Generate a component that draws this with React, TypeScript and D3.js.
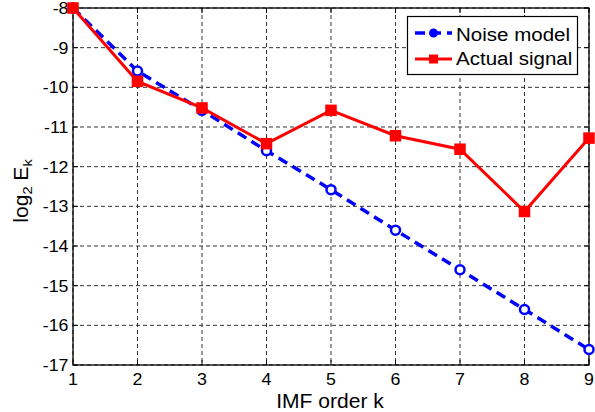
import React from "react";
import * as d3 from "d3";

const imfOrder = [1, 2, 3, 4, 5, 6, 7, 8, 9];
const noiseModel = [-8, -9.59, -10.58, -11.6, -12.58, -13.6, -14.6, -15.6, -16.61];
const actualSignal = [-8, -9.85, -10.52, -11.42, -10.58, -11.22, -11.56, -13.13, -11.28];
const xTicks = [1, 2, 3, 4, 5, 6, 7, 8, 9];
const yTicks = [-8, -9, -10, -11, -12, -13, -14, -15, -16, -17];

const W = 595;
const H = 412;
const left = 73;
const right = 589;
const top = 8;
const bottom = 365;
const FONT = "'Liberation Sans', Arial, Helvetica, sans-serif";
const SX = 1.08;

function T(props: {
  x: number;
  y: number;
  size: number;
  anchor?: string;
  rotate?: number;
  dy?: string;
  children: React.ReactNode;
}) {
  const { x, y, size, anchor, rotate, dy, children } = props;
  const tr = `translate(${x},${y})${rotate ? ` rotate(${rotate})` : ""} scale(${SX},1)`;
  return (
    <text transform={tr} fontSize={size} textAnchor={anchor || "start"} dy={dy} fill="#000">
      {children}
    </text>
  );
}

export default function App() {
  const x = d3.scaleLinear().domain([1, 9]).range([left, right]);
  const y = d3.scaleLinear().domain([-8, -17]).range([top, bottom]);

  const noisePts: [number, number][] = imfOrder.map((k, i) => [k, noiseModel[i]]);
  const actualPts: [number, number][] = imfOrder.map((k, i) => [k, actualSignal[i]]);
  const line = d3
    .line<[number, number]>()
    .x((d) => x(d[0]))
    .y((d) => y(d[1]));

  const gridColor = "#333";
  const tickLen = 5;

  return (
    <svg
      width={W}
      height={H}
      style={{ position: "absolute", left: 0, top: 0, background: "#fff" }}
      fontFamily={FONT}
    >
      <rect x={0} y={0} width={W} height={H} fill="#fff" />
      {/* grid */}
      {xTicks.map((t) => (
        <line
          key={"gx" + t}
          x1={x(t)}
          x2={x(t)}
          y1={top}
          y2={bottom}
          stroke={gridColor}
          strokeWidth={1}
          strokeDasharray="4,3"
        />
      ))}
      {yTicks.map((t) => (
        <line
          key={"gy" + t}
          x1={left}
          x2={right}
          y1={y(t)}
          y2={y(t)}
          stroke={gridColor}
          strokeWidth={1}
          strokeDasharray="4,3"
        />
      ))}
      {/* tick marks */}
      {xTicks.map((t) => (
        <g key={"tx" + t}>
          <line x1={x(t)} x2={x(t)} y1={bottom} y2={bottom - tickLen} stroke="#000" strokeWidth={1} />
          <line x1={x(t)} x2={x(t)} y1={top} y2={top + tickLen} stroke="#000" strokeWidth={1} />
          <T x={x(t)} y={384.5} size={16.5} anchor="middle">
            {t}
          </T>
        </g>
      ))}
      {yTicks.map((t) => (
        <g key={"ty" + t}>
          <line x1={left} x2={left + tickLen} y1={y(t)} y2={y(t)} stroke="#000" strokeWidth={1} />
          <line x1={right} x2={right - tickLen} y1={y(t)} y2={y(t)} stroke="#000" strokeWidth={1} />
          <T x={68.5} y={y(t)} dy="0.36em" size={16.5} anchor="end">
            {t}
          </T>
        </g>
      ))}
      {/* frame */}
      <rect
        x={left}
        y={top}
        width={right - left}
        height={bottom - top}
        fill="none"
        stroke="#000"
        strokeWidth={1.3}
      />
      {/* noise model */}
      <path
        d={line(noisePts) || ""}
        fill="none"
        stroke="#0000ff"
        strokeWidth={3.5}
        strokeDasharray="10,6"
      />
      {noisePts.map((p, i) => (
        <circle
          key={"nc" + i}
          cx={x(p[0])}
          cy={y(p[1])}
          r={4.5}
          fill="#fff"
          stroke="#0000ff"
          strokeWidth={2.5}
        />
      ))}
      {/* actual signal */}
      <path d={line(actualPts) || ""} fill="none" stroke="#ff0000" strokeWidth={3} />
      {actualPts.map((p, i) => (
        <rect
          key={"ar" + i}
          x={x(p[0]) - 5}
          y={y(p[1]) - 5}
          width={10}
          height={10}
          fill="#ff0000"
          stroke="#ff0000"
          strokeWidth={1.5}
        />
      ))}
      {/* axis labels */}
      <T x={330} y={407.5} size={19.5} anchor="middle">
        IMF order k
      </T>
      <T x={28} y={191} size={19.5} anchor="middle" rotate={-90}>
        log
        <tspan fontSize={13.5} dy={4}>2</tspan>
        <tspan dy={-4}> E</tspan>
        <tspan fontSize={13.5} dy={4}>k</tspan>
      </T>
      {/* legend */}
      <rect x={407.5} y={16.5} width={170} height={58} fill="#fff" stroke="#000" strokeWidth={1.2} />
      <line x1={415} x2={452} y1={33} y2={33} stroke="#0000ff" strokeWidth={3.5} strokeDasharray="10,6" />
      <circle cx={433.5} cy={33} r={3.5} fill="#0000ff" stroke="#0000ff" strokeWidth={2} />
      <T x={456} y={40.7} size={19}>
        Noise model
      </T>
      <line x1={415} x2={452} y1={59} y2={59} stroke="#ff0000" strokeWidth={3} />
      <rect x={429} y={54.5} width={9} height={9} fill="#ff0000" />
      <T x={456} y={65} size={19}>
        Actual signal
      </T>
    </svg>
  );
}
